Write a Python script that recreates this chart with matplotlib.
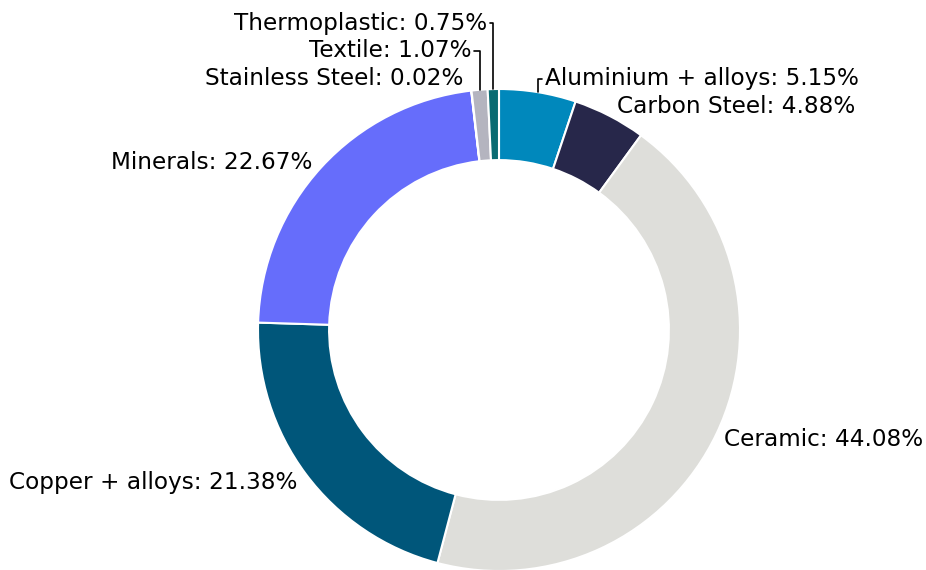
import numpy as np
import matplotlib
matplotlib.use('Agg')
import matplotlib.pyplot as plt

materials = ['Aluminium + alloys', 'Carbon Steel', 'Ceramic', 'Copper + alloys',
             'Minerals', 'Stainless Steel', 'Textile', 'Thermoplastic']
shares    = [5.15, 4.88, 44.08, 21.38, 22.67, 0.02, 1.07, 0.75]
colors    = ['#0088bc', '#27274a', '#dededa', '#00567a',
             '#666dfb', '#8a8a99', '#b4b4bf', '#0a6b72']

# label anchor (x, y, ha) in data units, and whether a leader line is drawn
label_pos = {
    'Aluminium + alloys': (0.19, 1.042, 'left', True),
    'Carbon Steel':       (0.49, 0.926, 'left', False),
    'Ceramic':            (0.934, -0.456, 'left', False),
    'Copper + alloys':    (-0.838, -0.633, 'right', False),
    'Minerals':           (-0.776, 0.697, 'right', False),
    'Stainless Steel':    (-0.149, 1.042, 'right', False),
    'Textile':            (-0.115, 1.158, 'right', True),
    'Thermoplastic':      (-0.05, 1.272, 'right', True),
}

fig = plt.figure(figsize=(9.26, 5.7), dpi=100)
R = 241
ax = fig.add_axes([(499 - R) / 926, (570 - 330 - R) / 570, 2 * R / 926, 2 * R / 570])

wedges, _ = ax.pie(shares, colors=colors, startangle=90, counterclock=False,
                   radius=1, wedgeprops=dict(width=0.295, edgecolor='white', linewidth=1.5))

for w, name, val in zip(wedges, materials, shares):
    ang = np.radians((w.theta1 + w.theta2) / 2)
    x, y = np.cos(ang), np.sin(ang)
    label = f'{name}: {val:.2f}%'
    tx, ty, ha, line = label_pos[name]
    if line:
        ax.annotate(label, xy=(x, y), xytext=(tx, ty), ha=ha, va='center', fontsize=16.7,
                    arrowprops=dict(arrowstyle='-', color='black', lw=1.2,
                                    connectionstyle='angle,angleA=0,angleB=90,rad=0',
                                    shrinkA=0, shrinkB=0),
                    annotation_clip=False)
    else:
        ax.text(tx, ty, label, ha=ha, va='center', fontsize=16.7)

ax.set_xlim(-1, 1)
ax.set_ylim(-1, 1)
ax.set_aspect('auto')
ax.axis('off')

fig.savefig('out.png', dpi=100)
